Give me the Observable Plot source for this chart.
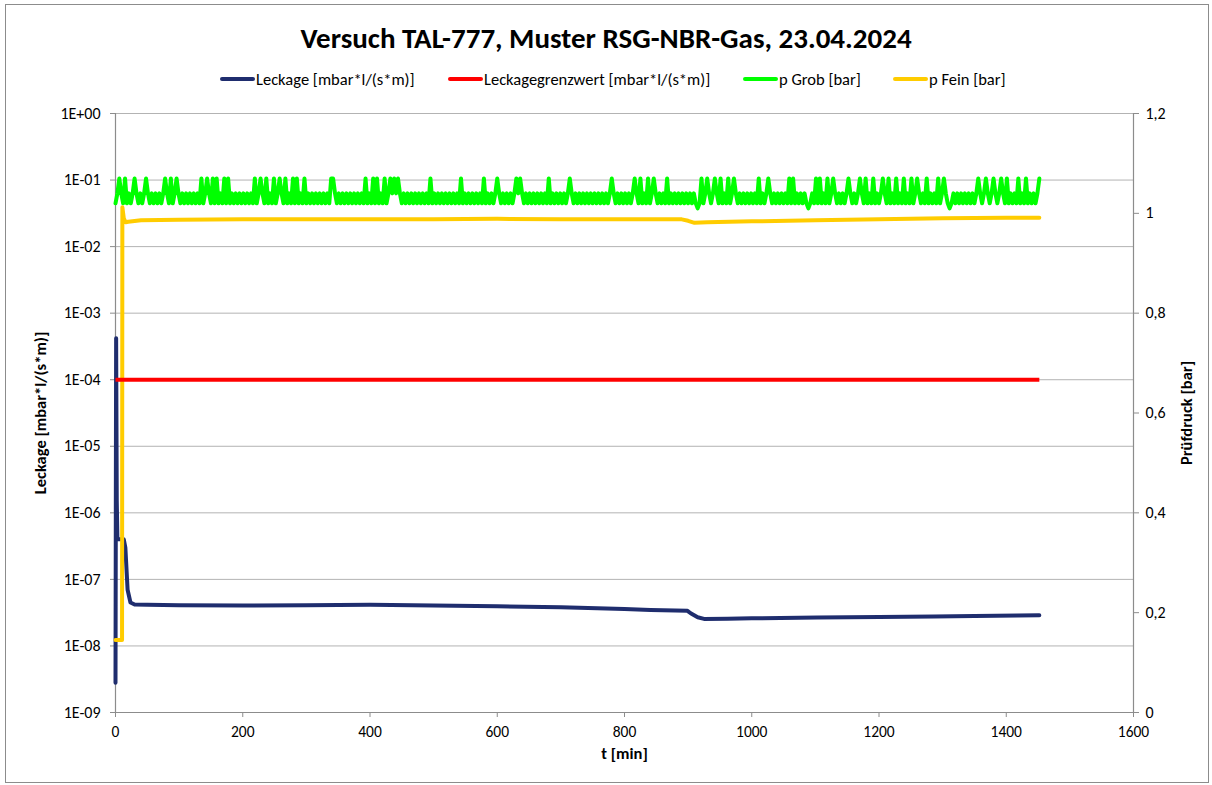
<!DOCTYPE html>
<html>
<head>
<meta charset="utf-8">
<script src="https://cdn.jsdelivr.net/npm/d3@7"></script>
<script src="https://cdn.jsdelivr.net/npm/@observablehq/plot@0.6"></script>
<style>
  html, body { margin: 0; padding: 0; background: #fff; }
  #wrap { position: relative; width: 1212px; height: 785px; overflow: hidden; font-family: Carlito, Calibri, Lato, "Noto Sans", sans-serif; color: #000; }
  #border { position: absolute; left: 5px; top: 4px; width: 1202px; height: 777px; border: 1px solid #8c8c8c; pointer-events: none; }
  #title { height: 62px; box-sizing: border-box; padding-top: 22px; line-height: 32px; text-align: center; font-size: 29px; font-weight: bold; }
  #legend { position: relative; height: 33px; font-size: 16.5px; }
  .item { position: absolute; top: 8px; height: 18px; line-height: 18px; display: flex; align-items: center; white-space: nowrap; }
  .sw { width: 35px; height: 4px; border-radius: 2px; margin-right: 1px; }
  svg { display: block; }
</style>
</head>
<body>
<div id="wrap">
  <div id="title"></div>
  <div id="legend"></div>
  <div id="chart"></div>
  <div id="border"></div>
</div>
<script>
// ---------- data ----------
const titleText = "Versuch TAL-777, Muster RSG-NBR-Gas, 23.04.2024";
const seriesNames = ["Leckage [mbar*l/(s*m)]", "Leckagegrenzwert [mbar*l/(s*m)]", "p Grob [bar]", "p Fein [bar]"];
const seriesColors = ["#1f2d6e", "#ff0000", "#00ff00", "#ffcc00"];
const legendLeft = [220, 448, 743, 893];

const xTicks = [0, 200, 400, 600, 800, 1000, 1200, 1400, 1600];
const leftTicks = [1e-9, 1e-8, 1e-7, 1e-6, 1e-5, 1e-4, 1e-3, 1e-2, 1e-1, 1];
const rightTicks = [0, 0.2, 0.4, 0.6, 0.8, 1, 1.2];
const xLabel = "t [min]";
const yLeftLabel = "Leckage [mbar*l/(s*m)]";
const yRightLabel = "Prüfdruck [bar]";

// Leckage (left, log axis)
const leakT = [0, 1, 2, 3, 13, 15.5, 19, 23.5, 30, 50, 100, 200, 300, 400, 500, 600, 700, 800, 841, 880, 899, 904, 915, 925, 962, 1000, 1103, 1200, 1286, 1350, 1418, 1452];
const leakV = [2.8e-9, 4.2e-4, 1.5e-6, 4e-7, 4e-7, 3e-7, 7e-8, 4.5e-8, 4.2e-8, 4.15e-8, 4.1e-8, 4.05e-8, 4.1e-8, 4.15e-8, 4.05e-8, 3.95e-8, 3.8e-8, 3.6e-8, 3.48e-8, 3.4e-8, 3.37e-8, 3.1e-8, 2.7e-8, 2.55e-8, 2.57e-8, 2.6e-8, 2.67e-8, 2.72e-8, 2.78e-8, 2.82e-8, 2.87e-8, 2.9e-8];

// Leckagegrenzwert (left)
const limitT = [0, 1452];
const limitV = [1e-4, 1e-4];

// p Fein (right axis, bar)
const fineT = [0, 10.3, 10.8, 13, 16, 20, 40, 100, 200, 300, 400, 500, 600, 700, 800, 890, 900, 910, 930, 1000, 1100, 1200, 1300, 1400, 1452];
const fineV = [0.145, 0.145, 1.012, 0.99, 0.982, 0.983, 0.986, 0.987, 0.988, 0.988, 0.988, 0.988, 0.989, 0.988, 0.988, 0.988, 0.985, 0.981, 0.982, 0.984, 0.986, 0.988, 0.99, 0.991, 0.991];

// p Grob (right axis, bar): one reading every 3 min, digit d = 1 + d/100 bar
const grobStep = 3;
const grobCodes =
  "2474272424" + "7424247424" + "2424247427" + "2474242424" + "2424272474" +
  "2727242727" + "2424242424" + "2427247427" + "2427247427" + "2427272427" +
  "2424242424" + "2427742424" + "2424242424" + "2724272724" + "2724747474" +
  "2424242424" + "2424272424" + "2424242424" + "2724242424" + "2427242424" +
  "7424242424" + "7474242424" + "2424242724" + "2424242474" + "2424242424" +
  "2424242424" + "7424242424" + "2474272427" + "2474242427" + "2424242424" +
  "2424212724" + "7424742724" + "2724742424" + "2424242724" + "2474242424" +
  "2427272424" + "2421242727" + "2427247424" + "2424742424" + "7427242724" +
  "2474272427" + "2427242724" + "7424272424" + "2724742124" + "2424242424" +
  "2474247424" + "7424742724" + "2427242724" + "24247";

// ---------- build ----------
const toLog = v => Math.pow(10, -9 + 7.5 * v); // right axis (0..1.2) onto left log axis (1e-9..1)
const leak = leakT.map((t, i) => ({t, y: leakV[i]}));
const limit = limitT.map((t, i) => ({t, y: limitV[i]}));
const fine = fineT.map((t, i) => ({t, y: toLog(fineV[i])}));
const grob = Array.from(grobCodes, (c, i) => ({t: i * grobStep, y: toLog(1 + (+c) / 100)}));

document.getElementById("title").textContent = titleText;
const lg = document.getElementById("legend");
seriesNames.forEach((n, i) => {
  const it = document.createElement("div");
  it.className = "item";
  it.style.left = legendLeft[i] + "px";
  const sw = document.createElement("span");
  sw.className = "sw";
  sw.style.background = seriesColors[i];
  const tx = document.createElement("span");
  tx.textContent = n;
  it.appendChild(sw); it.appendChild(tx);
  lg.appendChild(it);
});

const fmtLeft = d => { const e = Math.round(Math.log10(d)); return "1E" + (e < 0 ? "-" : "+") + String(Math.abs(e)).padStart(2, "0"); };
const fmtRight = v => String(v).replace(".", ",");

const axisGray = "#8c8c8c";
const gridGray = "#b3b3b3";
const fontFam = "Carlito, Calibri, Lato, 'Noto Sans', sans-serif";

const chart = Plot.plot({
  width: 1212,
  height: 690,
  marginTop: 18,
  marginBottom: 73,
  marginLeft: 115,
  marginRight: 79,
  style: {fontFamily: fontFam, fontSize: "16px", color: "#000", background: "transparent"},
  x: {domain: [0, 1600]},
  y: {type: "log", domain: [1e-9, 1]},
  marks: [
    Plot.gridY(leftTicks, {stroke: gridGray, strokeOpacity: 1, strokeWidth: 1}),
    Plot.ruleX([0, 1600], {stroke: axisGray, strokeWidth: 1.2}),
    Plot.ruleY([1e-9], {stroke: axisGray, strokeWidth: 1.2}),
    Plot.axisY(leftTicks, {anchor: "left", tickFormat: fmtLeft, tickSize: 5, tickPadding: 10, stroke: axisGray, fill: "#000", fontSize: 16, label: null}),
    Plot.axisY(rightTicks.map(toLog), {anchor: "right", tickFormat: () => "", tickSize: 5, stroke: axisGray, label: null}),
    Plot.text(rightTicks, {y: v => toLog(v), text: fmtRight, frameAnchor: "right", textAnchor: "start", dx: 12, fontSize: 16, fill: "#000"}),
    Plot.axisX(xTicks, {anchor: "bottom", tickFormat: d => String(d), tickSize: 5, tickPadding: 8, stroke: axisGray, fill: "#000", fontSize: 15.5, label: null}),
    Plot.text([yLeftLabel], {frameAnchor: "left", textAnchor: "middle", dx: -75, rotate: -90, fontWeight: "bold", fontSize: 16.5, fill: "#000"}),
    Plot.text([yRightLabel], {frameAnchor: "right", textAnchor: "middle", dx: 53, rotate: -90, fontWeight: "bold", fontSize: 16.5, fill: "#000"}),
    Plot.text([xLabel], {frameAnchor: "bottom", textAnchor: "middle", dy: 46, fontWeight: "bold", fontSize: 16.5, fill: "#000"}),
    Plot.line(leak, {x: "t", y: "y", stroke: seriesColors[0], strokeWidth: 4, strokeLinejoin: "round", strokeLinecap: "round"}),
    Plot.line(grob, {x: "t", y: "y", stroke: seriesColors[2], strokeWidth: 4, strokeLinejoin: "round", strokeLinecap: "round"}),
    Plot.line(fine, {x: "t", y: "y", stroke: seriesColors[3], strokeWidth: 4, strokeLinejoin: "round", strokeLinecap: "round"}),
    Plot.line(limit, {x: "t", y: "y", stroke: seriesColors[1], strokeWidth: 4, strokeLinecap: "butt"})
  ]
});
document.getElementById("chart").appendChild(chart);
</script>
</body>
</html>
